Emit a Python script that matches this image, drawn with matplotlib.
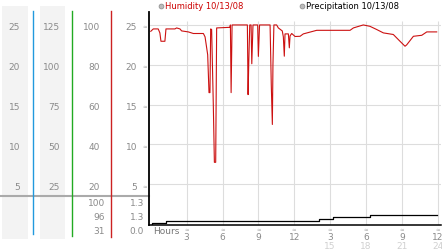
import numpy as np
import matplotlib
matplotlib.use("Agg")
import matplotlib.pyplot as plt

W, H = 442, 253

# humidity trace (hours since midnight, percent)
hum_hours = [0.0, 0.21, 0.62, 0.76, 0.85, 1.18, 1.27, 2.02, 2.16, 2.44, 2.58, 3.14,
             3.56, 4.40, 4.54, 4.76, 4.87, 4.95, 5.01, 5.09, 5.23, 5.32, 5.43, 5.51,
             6.62, 6.66, 6.72, 6.80, 8.08, 8.14, 8.20, 8.28, 8.39, 8.45, 8.55, 8.94,
             9.00, 9.10, 9.98, 10.08, 10.17, 10.22, 10.30, 10.53, 10.67, 11.00, 11.09,
             11.17, 11.23, 11.51, 11.59, 11.65, 11.79, 12.07, 12.49, 12.76, 13.88,
             16.67, 16.95, 17.78, 18.34, 18.90, 19.46, 20.29, 20.85, 21.27, 21.41,
             21.97, 22.67, 23.09, 23.92]
hum_vals = [96.8, 98.0, 98.0, 96.0, 91.8, 91.8, 98.0, 98.0, 98.5, 98.0, 97.0, 96.5,
            95.7, 95.7, 94.0, 85.0, 66.0, 66.0, 98.0, 97.7, 60.0, 31.0, 31.0, 98.5,
            98.8, 100.0, 66.0, 100.0, 100.0, 65.0, 82.0, 100.0, 100.0, 80.5, 100.0, 100.0,
            84.2, 100.0, 100.0, 70.0, 50.0, 80.0, 100.0, 100.0, 98.5, 97.0, 94.0,
            84.3, 95.5, 95.5, 88.5, 94.5, 95.7, 94.2, 94.3, 95.5, 97.3,
            97.3, 98.5, 100.0, 99.3, 97.7, 96.0, 95.2, 91.8, 89.3, 90.0,
            94.3, 94.8, 96.5, 96.5]

# precipitation (cumulative, step after each time)
pre_hours = [0.0, 0.1, 1.27, 14.07, 15.25, 18.34, 23.95]
pre_vals = [0.0, 0.18, 0.46, 0.77, 1.0, 1.3, 1.3]

# scale columns on the left
col1_labels = ["25", "20", "15", "10", "5"]
col2_labels = ["125", "100", "75", "50", "25"]
col3_labels = ["100", "80", "60", "40", "20"]
col4_labels = ["25", "20", "15", "10", "5"]
hum_stats = ["100", "96", "31"]
pre_stats = ["1.3", "1.3", "0.0"]

x_ticks = [3, 6, 9, 12, 15, 18, 21, 24]
x_labels1 = ["3", "6", "9", "12", "3", "6", "9", "12"]
x_labels2 = ["", "", "", "", "15", "18", "21", "24"]

GRAY = "#8a8a8a"

fig = plt.figure(figsize=(W / 100, H / 100), dpi=100)

# pixel overlay for the side panel
bg = fig.add_axes([0, 0, 1, 1], zorder=0)
bg.set_xlim(0, W)
bg.set_ylim(H, 0)
bg.axis("off")
bg.fill_between([2, 28], 7, 240, color="#f3f3f3", lw=0)
bg.fill_between([40, 65], 7, 240, color="#f3f3f3", lw=0)
bg.plot([0, 149], [197, 197], color="#aaaaaa", lw=1.5)
bg.plot([33, 33], [12, 235], color="#2299dd", lw=1.0)
bg.plot([72, 72], [12, 237], color="#22aa22", lw=1.0)
bg.plot([111, 111], [12, 238], color="#cc2222", lw=1.0)

rows = [27, 67, 107, 147, 187]
for i, y in enumerate(rows):
    bg.text(20, y, col1_labels[i], ha="right", va="center", fontsize=6.5, color=GRAY)
    bg.text(60, y, col2_labels[i], ha="right", va="center", fontsize=6.5, color=GRAY)
    bg.text(100, y, col3_labels[i], ha="right", va="center", fontsize=6.5, color=GRAY)
    bg.text(137, y, col4_labels[i], ha="right", va="center", fontsize=6.5, color=GRAY)
    bg.text(145, y, "≈", ha="center", va="center", fontsize=4, color="#aaaaaa")
for i, y in enumerate([204, 218, 232]):
    bg.text(105, y, hum_stats[i], ha="right", va="center", fontsize=6.5, color=GRAY)
    bg.text(144, y, pre_stats[i], ha="right", va="center", fontsize=6.5, color=GRAY)

# legend
bg.plot([161], [6.5], "o", ms=3.5, mfc="#bbbbbb", mec="#888888", mew=0.5)
bg.text(165, 6.5, "Humidity 10/13/08", ha="left", va="center", fontsize=6, color="#cc0000")
bg.plot([302], [6.5], "o", ms=3.5, mfc="#bbbbbb", mec="#888888", mew=0.5)
bg.text(306, 6.5, "Precipitation 10/13/08", ha="left", va="center", fontsize=6, color="black")
bg.text(153, 231.5, "Hours", ha="left", va="center", fontsize=6.5, color="#777777")

# main plot
ax = fig.add_axes([149 / W, 1 - 226 / H, (441 - 149) / W, (226 - 13) / H], zorder=1)
ax.set_facecolor("none")
ax.set_xlim(-0.15, 24.28)
ax.set_ylim(-0.5, 106.5)
for s in ["top", "right"]:
    ax.spines[s].set_visible(False)
ax.spines["left"].set_linewidth(1.3)
ax.spines["bottom"].set_linewidth(1.1)
ax.set_xticks([])
ax.set_yticks([])
ax.hlines([20, 40, 60, 80, 100], -0.15, 24.28, color="#dddddd", lw=0.8, zorder=0)
ax.vlines(x_ticks, -0.5, 102, color="#dddddd", lw=0.8, zorder=0)
ax.plot(hum_hours, hum_vals, color="#cc1111", lw=0.8, zorder=3)

tr = ax.get_xaxis_transform()
for i, t in enumerate(x_ticks):
    ax.text(t, -0.02, "≈", transform=tr, ha="center", va="center", fontsize=4,
            color="#aaaaaa", clip_on=False)
    ax.text(t, -0.055, x_labels1[i], transform=tr, ha="center", va="center",
            fontsize=6.5, color=GRAY, clip_on=False)
    ax.text(t, -0.095, x_labels2[i], transform=tr, ha="center", va="center",
            fontsize=6.5, color="#d0d0d0", clip_on=False)

pax = ax.twinx()
pax.set_ylim(-0.04, 29.4)
pax.axis("off")
pax.step(pre_hours, pre_vals, where="post", color="black", lw=0.9)

fig.savefig("out.png", dpi=100)
